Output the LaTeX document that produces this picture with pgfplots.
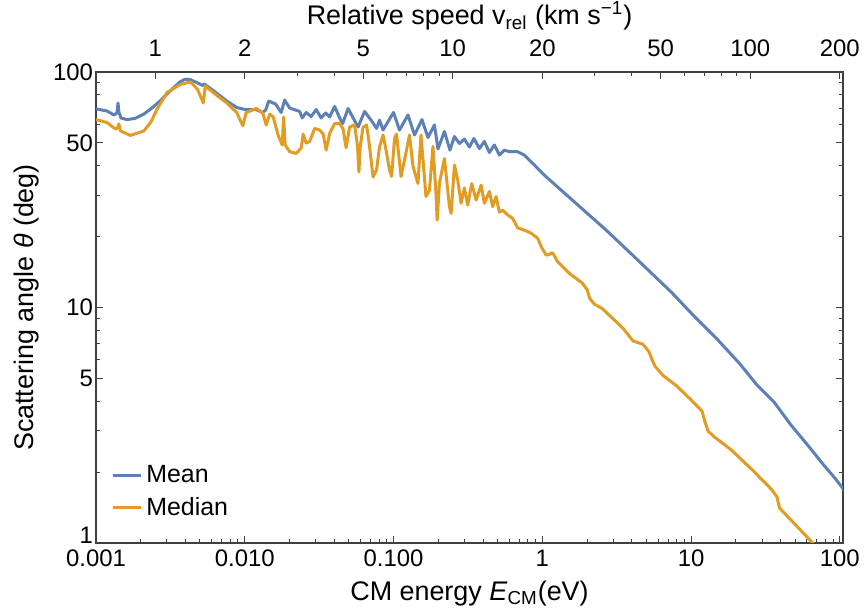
\documentclass[border=0pt]{standalone}
\usepackage{fontspec}
\setmainfont{Liberation Sans}
\usepackage{pgfplots}
\pgfplotsset{compat=1.18}
\definecolor{meanblue}{RGB}{94,129,181}
\definecolor{medorange}{RGB}{225,156,36}
\begin{document}
\begin{tikzpicture}
\pgfplotsset{
  every tick label/.append style={font=\fontsize{12}{14}\selectfont},
  every axis label/.append style={font=\fontsize{13.5}{16}\selectfont},
}
\begin{axis}[
  at={(0,0)}, anchor=south west,
  scale only axis, width=373.5bp, height=235.5bp,
  xmode=log, ymode=log,
  xmin=0.001, xmax=105, ymin=1, ymax=100,
  xtick={0.001,0.01,0.1,1,10,100},
  xticklabels={0.001,0.010,0.100,1,10,100},
  minor xtick={0.002,0.003,0.004,0.005,0.006,0.007,0.008,0.009,
               0.02,0.03,0.04,0.05,0.06,0.07,0.08,0.09,
               0.2,0.3,0.4,0.5,0.6,0.7,0.8,0.9,
               2,3,4,5,6,7,8,9,20,30,40,50,60,70,80,90},
  ytick={1,5,10,50,100},
  yticklabels={\raisebox{8bp}{1},5,10,50,100},
  yticklabel style={xshift=2bp},
  minor ytick={2,3,4,6,7,8,9,20,30,40,60,70,80,90},
  xtick pos=lower, xticklabel pos=lower,
  ytick pos=both, yticklabel pos=lower,
  major tick length=3.5bp, minor tick length=2bp,
  tick style={black!75, line width=0.5bp},
  axis line style={black!75, line width=0.6bp},
  xlabel={CM energy \textit{E}\textsubscript{CM}(eV)},
  ylabel={Scattering angle \textit{θ} (deg)},
  legend style={at={(0.012,0.035)}, anchor=south west, draw=none, fill=none,
    font=\fontsize{12.5}{15}\selectfont, row sep=2bp, cells={anchor=west}},
  legend image code/.code={\draw[#1] (0bp,0bp) -- (14bp,0bp);},
]
\addplot[meanblue, line width=1.5bp, line join=round] coordinates {
(0.001,69.7) (0.001186,68.3) (0.001321,65.7) (0.001384,67.0) (0.001406,73.9)
(0.001426,67.6) (0.001472,63.8) (0.001614,62.8) (0.001828,63.5) (0.002099,66.3)
(0.002377,70.3) (0.00269,75.3) (0.003,80.7) (0.003339,86.0) (0.003664,90.7)
(0.003954,93.1) (0.004276,92.9) (0.004764,90.2) (0.005224,87.6) (0.005346,88.9)
(0.00619,83.1) (0.00757,75.3) (0.00883,70.7) (0.01,69.3) (0.01186,69.3)
(0.01321,67.3) (0.01384,69.0) (0.01449,75.3) (0.01614,73.1) (0.01758,67.3)
(0.01854,76.0) (0.02004,70.3) (0.02339,68.0) (0.02432,63.8) (0.02588,67.3)
(0.02793,64.7) (0.0302,69.3) (0.0326,63.8) (0.035,67.0) (0.0372,64.4)
(0.0402,71.4) (0.04345,63.8) (0.0455,60.4) (0.0495,70.0) (0.0535,63.8)
(0.0578,58.4) (0.0639,68.0) (0.0706,62.5) (0.0769,57.6) (0.0805,62.5)
(0.085,56.7) (0.1,67.3) (0.1097,56.7) (0.1251,65.7) (0.1384,54.0)
(0.1553,62.8) (0.1704,52.7) (0.1884,59.6) (0.1989,47.1) (0.2199,55.9)
(0.2394,46.6) (0.2567,53.2) (0.2773,49.7) (0.2996,51.9) (0.3236,48.0)
(0.347,52.2) (0.3778,47.3) (0.408,50.7) (0.441,45.5) (0.476,49.0)
(0.5144,44.4) (0.556,46.6) (0.600,45.9) (0.680,45.9) (0.757,44.4)
(0.884,40.3) (1.031,36.5) (1.590,28.6) (2.689,21.3) (4.477,15.7)
(7.458,11.53) (10.31,9.29) (14.95,7.35) (21.3,5.76) (27.7,4.69)
(36.1,3.97) (46.9,3.17) (60.0,2.63) (78.1,2.14) (91.1,1.91)
(103.1,1.73) (106,1.68)
};
\addlegendentry{Mean}
\addplot[medorange, line width=1.5bp, line join=round] coordinates {
(0.001,62.8) (0.001186,61.0) (0.001352,57.3) (0.001394,57.8) (0.001426,60.2)
(0.00146,56.2) (0.001704,53.8) (0.002099,56.2) (0.002339,61.3) (0.002567,69.3)
(0.003,81.8) (0.00369,88.5) (0.00431,90.7) (0.0048,84.7) (0.005267,73.9)
(0.00543,87.2) (0.00619,81.4) (0.00757,73.9) (0.00883,67.3) (0.0097,59.0)
(0.01023,67.3) (0.01195,70.0) (0.01321,67.0) (0.01394,59.6) (0.01472,66.3)
(0.01553,64.4) (0.01678,53.8) (0.01785,49.0) (0.01826,64.4) (0.01869,49.0)
(0.02004,45.9) (0.02216,45.1) (0.02394,47.6) (0.02469,54.5) (0.02588,49.9)
(0.02731,50.7) (0.0295,57.6) (0.03187,56.7) (0.03364,54.5) (0.03524,46.6)
(0.0372,54.8) (0.0402,60.4) (0.04345,60.4) (0.0458,57.3) (0.048,47.6)
(0.05067,58.4) (0.05474,59.6) (0.05733,48.3) (0.0585,37.6) (0.05976,48.3)
(0.0624,58.4) (0.0659,59.6) (0.069,48.3) (0.07285,35.8) (0.0769,38.4)
(0.0805,48.0) (0.085,54.0) (0.08907,46.6) (0.094,38.4) (0.097,36.0)
(0.1016,52.2) (0.1047,54.5) (0.1123,36.0) (0.1185,42.3) (0.128,54.0)
(0.1352,39.7) (0.146,33.6) (0.153,54.0) (0.1652,29.6) (0.1744,31.5)
(0.1841,48.3) (0.1929,30.6) (0.1965,23.5) (0.2036,33.8) (0.2199,42.9)
(0.2375,26.8) (0.2439,25.1) (0.2567,40.3) (0.270,34.8) (0.2847,27.7)
(0.2996,32.2) (0.3152,27.2) (0.3354,33.6) (0.359,28.6) (0.3879,33.1)
(0.408,27.7) (0.441,31.1) (0.4638,26.8) (0.489,29.6) (0.5144,25.4)
(0.5414,25.9) (0.585,24.7) (0.632,23.9) (0.6826,21.8) (0.757,21.3)
(0.840,20.7) (0.930,19.7) (0.985,18.1) (1.059,16.7) (1.114,16.8)
(1.172,17.1) (1.267,15.65) (1.518,13.97) (1.864,12.67) (2.004,11.87)
(2.084,10.92) (2.234,10.35) (2.528,9.90) (2.950,9.03) (3.497,8.14)
(4.08,7.21) (4.764,6.97) (5.225,6.47) (5.474,5.99) (5.733,5.62)
(6.49,5.14) (7.93,4.67) (9.85,4.09) (11.85,3.63) (12.42,3.26)
(13.01,2.99) (14.05,2.85) (18.56,2.49) (26.1,2.03) (35.0,1.68)
(37.8,1.568) (39.3,1.408) (47.6,1.240) (62.9,1.03) (84.4,0.847)
};
\addlegendentry{Median}
\end{axis}
% top axis: relative speed, v = 20*sqrt(E)
\begin{axis}[
  at={(0,0)}, anchor=south west,
  scale only axis, width=373.5bp, height=235.5bp,
  xmode=log, xmin=0.63246, xmax=204.94, ymin=0, ymax=1,
  axis x line*=top, hide y axis,
  xtick={1,2,5,10,20,50,100,200},
  xticklabels={1,2,5,10,20,50,100,200},
  xticklabel style={yshift=4bp},
  minor xtick={3,4,6,7,8,9,30,40,60,70,80,90},
  major tick length=3.5bp, minor tick length=2bp,
  tick style={black!75, line width=0.5bp},
  axis line style={black!75, line width=0.6bp},
  xlabel={Relative speed v\textsubscript{rel} (km s\textsuperscript{−1})},
  xlabel style={yshift=-2bp},
]
\end{axis}
\pgfresetboundingbox
\path (-48bp,-36bp) rectangle (386bp,271.5bp);
\end{tikzpicture}
\end{document}
